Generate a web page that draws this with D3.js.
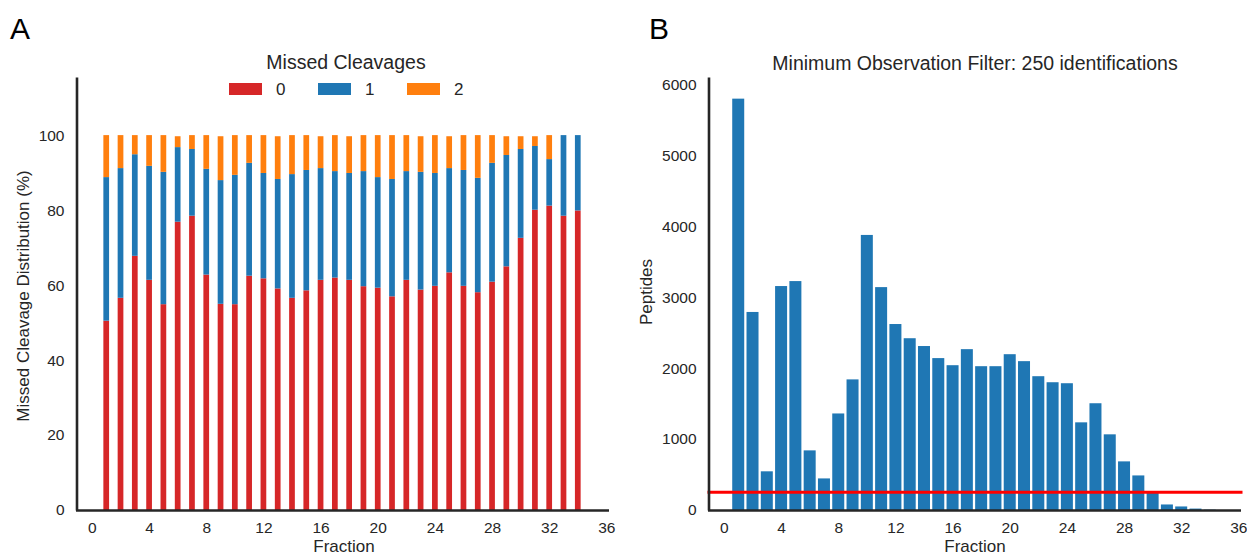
<!DOCTYPE html>
<html>
<head>
<meta charset="utf-8">
<script src="https://cdn.jsdelivr.net/npm/d3@7"></script>
<style>
  html, body { margin: 0; padding: 0; background: #fff; }
  svg { display: block; font-family: "Liberation Sans", Arial, sans-serif; }
</style>
</head>
<body>
<svg id="chart" width="1247" height="555"></svg>
<script>
// ---------- DATA ----------
const fractions = d3.range(1, 35);
// Panel A: missed cleavage distribution (%) per fraction
const mc0 = [50.5, 56.6, 67.8, 61.4, 54.9, 76.9, 78.5, 62.8, 55.0, 54.9, 62.5, 61.8, 59.1, 56.6, 58.6, 61.4, 62.0,
             61.4, 59.7, 59.3, 57.0, 61.4, 58.8, 59.8, 63.4, 59.8, 58.1, 60.9, 65.0, 72.6, 80.1, 81.2, 78.5, 79.9];
const mc1 = [38.3, 34.6, 27.1, 30.4, 35.3, 19.9, 17.8, 28.2, 33.0, 34.5, 30.1, 28.1, 29.2, 33.0, 32.1, 29.8, 28.4,
             28.5, 30.7, 29.5, 31.3, 29.0, 31.4, 30.1, 27.8, 30.9, 30.5, 31.7, 29.7, 23.7, 17.0, 12.4, 21.5, 20.1];
const mc2 = [11.2, 8.8, 5.1, 8.2, 9.8, 2.9, 3.7, 9.0, 11.7, 10.6, 7.4, 10.1, 11.4, 10.4, 9.3, 8.5, 9.6,
             9.8, 9.6, 11.2, 11.7, 9.6, 9.5, 10.1, 8.5, 9.3, 11.4, 7.4, 5.0, 3.4, 2.6, 6.4, 0, 0];
const seriesNames = ["0", "1", "2"];
const seriesColors = ["#d62728", "#1f77b4", "#ff7f0e"];
// Panel B: peptides per fraction
const peptides = [5795, 2790, 545, 3155, 3225, 840, 445, 1360, 1840, 3875, 3140, 2620, 2420, 2310, 2140, 2040, 2266,
                  2026, 2026, 2195, 2097, 1885, 1800, 1786, 1235, 1504, 1066, 685, 487, 265, 78, 50, 20, 5];
const filterThreshold = 250;
const xTicks = [0, 4, 8, 12, 16, 20, 24, 28, 32, 36];
const yTicksA = [0, 20, 40, 60, 80, 100];
const yTicksB = [0, 1000, 2000, 3000, 4000, 5000, 6000];

// ---------- SETUP ----------
const svg = d3.select("#chart");
const ink = "#262626";
const tickFont = "15.5px";
const labelFont = "17px";

function styleAxis(g) {
  g.select(".domain").attr("stroke", ink).attr("stroke-width", 2.6);
  g.selectAll(".tick line").remove();
  g.selectAll(".tick text").attr("fill", ink).style("font-size", tickFont);
}

// ---------- PANEL A ----------
const xA = d3.scaleLinear().domain([-1.15, 36.15]).range([75.5, 608.5]);
const yA = d3.scaleLinear().domain([0, 115.5]).range([510, 77]);

const stackRows = fractions.map((f, i) => ({ f, s0: mc0[i], s1: mc1[i], s2: mc2[i] }));
const stack = d3.stack().keys(["s0", "s1", "s2"])(stackRows);
const bwA = xA(0.4) - xA(0);

const gA = svg.append("g");
stack.forEach((layer, li) => {
  gA.append("g").attr("fill", seriesColors[li])
    .selectAll("rect").data(layer).join("rect")
    .attr("x", d => xA(d.data.f) - bwA / 2)
    .attr("width", bwA)
    .attr("y", d => yA(d[1]))
    .attr("height", d => Math.max(0, yA(d[0]) - yA(d[1])));
});

svg.append("g").attr("transform", "translate(0,510)")
  .call(d3.axisBottom(xA).tickValues(xTicks).tickFormat(d3.format("d")).tickSize(0).tickSizeOuter(0).tickPadding(12))
  .call(styleAxis);
svg.append("g").attr("transform", `translate(${xA.range()[0] + 1},0)`)
  .call(d3.axisLeft(yA).tickValues(yTicksA).tickFormat(d3.format("d")).tickSize(0).tickSizeOuter(0).tickPadding(12))
  .call(styleAxis);

svg.append("text").attr("x", 344).attr("y", 552).attr("text-anchor", "middle")
  .attr("fill", ink).style("font-size", labelFont).text("Fraction");
svg.append("text").attr("transform", "translate(23,296) rotate(-90)")
  .attr("text-anchor", "middle").attr("dominant-baseline", "central")
  .attr("fill", ink).style("font-size", labelFont).text("Missed Cleavage Distribution (%)");

// Legend
svg.append("text").attr("x", 346).attr("y", 69).attr("text-anchor", "middle")
  .attr("fill", ink).style("font-size", "19.5px").text("Missed Cleavages");
const legX = [229, 318, 407];
seriesNames.forEach((n, i) => {
  svg.append("rect").attr("x", legX[i]).attr("y", 83).attr("width", 33).attr("height", 12)
    .attr("fill", seriesColors[i]);
  svg.append("text").attr("x", legX[i] + 47).attr("y", 95)
    .attr("fill", ink).style("font-size", "17px").text(n);
});

svg.append("text").attr("x", 10).attr("y", 39).attr("fill", "#000")
  .style("font-size", "30px").text("A");

// ---------- PANEL B ----------
const xB = d3.scaleLinear().domain([-1.15, 36.15]).range([707.5, 1240.5]);
const yB = d3.scaleLinear().domain([0, 6100]).range([510, 77]);
const bwB = xB(0.84) - xB(0);

svg.append("g").attr("fill", "#1f77b4")
  .selectAll("rect").data(peptides).join("rect")
  .attr("x", (d, i) => xB(fractions[i]) - bwB / 2)
  .attr("width", bwB)
  .attr("y", d => yB(d))
  .attr("height", d => yB(0) - yB(d));

svg.append("line")
  .attr("x1", xB.range()[0]).attr("x2", xB.range()[1] + 2)
  .attr("y1", yB(filterThreshold)).attr("y2", yB(filterThreshold))
  .attr("stroke", "#ff0000").attr("stroke-width", 3.2);

svg.append("g").attr("transform", "translate(0,510)")
  .call(d3.axisBottom(xB).tickValues(xTicks).tickFormat(d3.format("d")).tickSize(0).tickSizeOuter(0).tickPadding(12))
  .call(styleAxis);
svg.append("g").attr("transform", `translate(${xB.range()[0] + 1},0)`)
  .call(d3.axisLeft(yB).tickValues(yTicksB).tickFormat(d3.format("d")).tickSize(0).tickSizeOuter(0).tickPadding(12))
  .call(styleAxis);

svg.append("text").attr("x", 975).attr("y", 552).attr("text-anchor", "middle")
  .attr("fill", ink).style("font-size", labelFont).text("Fraction");
svg.append("text").attr("transform", "translate(646,292) rotate(-90)")
  .attr("text-anchor", "middle").attr("dominant-baseline", "central")
  .attr("fill", ink).style("font-size", labelFont).text("Peptides");
svg.append("text").attr("x", 975).attr("y", 70).attr("text-anchor", "middle")
  .attr("fill", ink).style("font-size", "19.5px").text("Minimum Observation Filter: 250 identifications");

svg.append("text").attr("x", 649).attr("y", 39).attr("fill", "#000")
  .style("font-size", "30px").text("B");
</script>
</body>
</html>
